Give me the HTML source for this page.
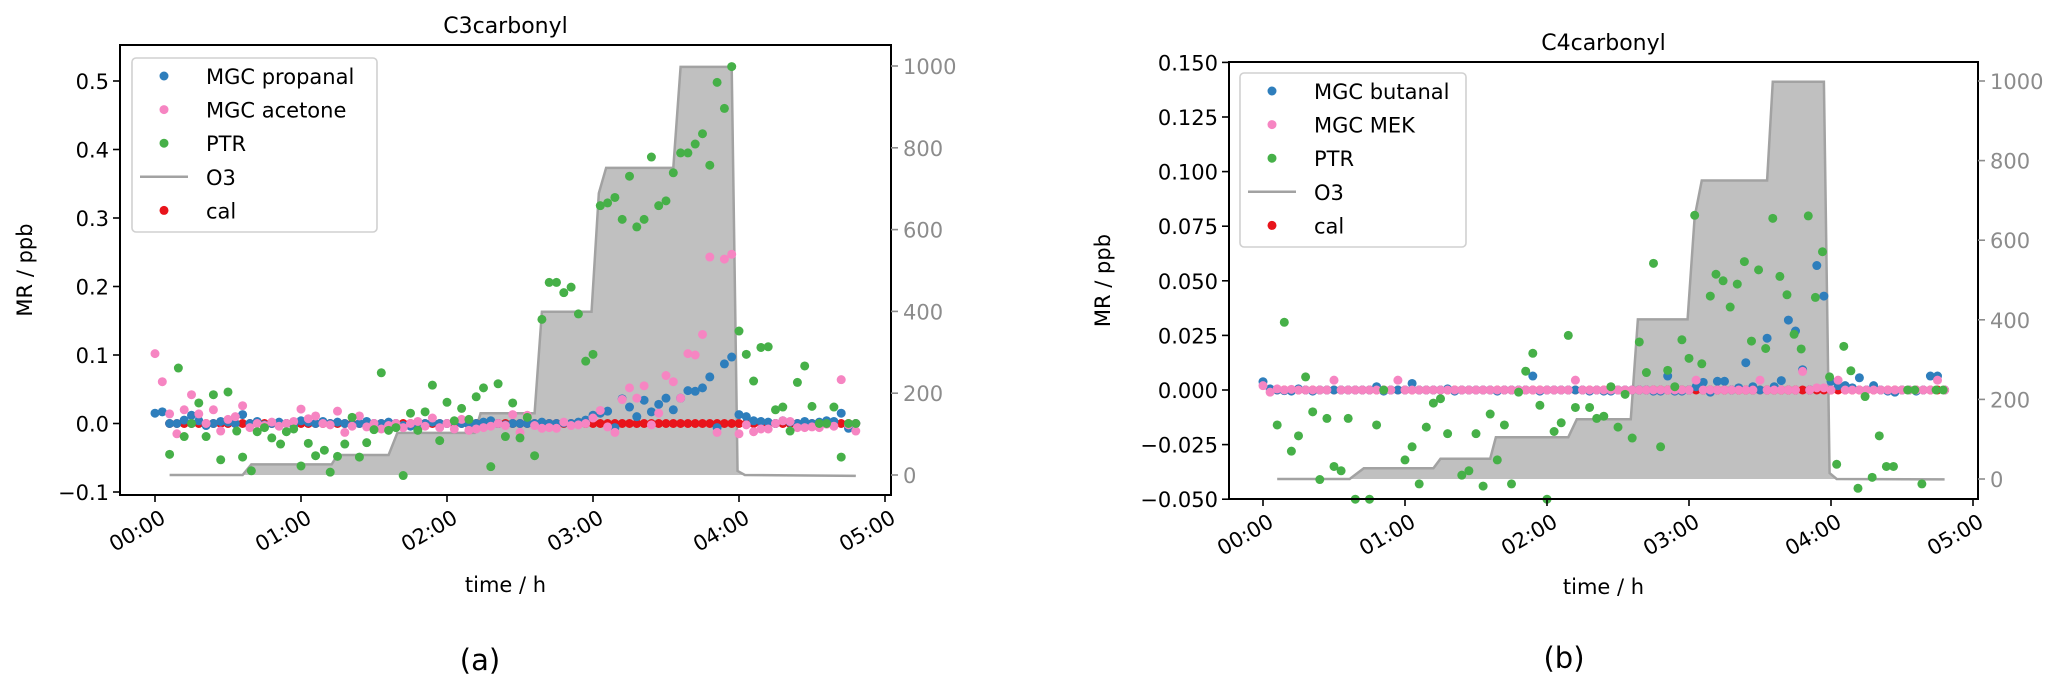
<!DOCTYPE html>
<html><head><meta charset="utf-8"><style>
html,body{margin:0;padding:0;background:#fff;}
svg{display:block;font-family:"DejaVu Sans","Liberation Sans",sans-serif;}
</style></head><body>
<svg id="fig" width="2067" height="688" viewBox="0 0 2067 688" xmlns="http://www.w3.org/2000/svg"></svg>
<script>
// ---------- shared data ----------
const mgcTimes = [0,0.05,0.1,0.15,0.2,0.25,0.3,0.35,0.4,0.45,0.5,0.55,0.6,0.65,0.7,0.75,0.8,0.85,0.9,0.95,1,1.05,1.1,1.15,1.2,1.25,1.3,1.35,1.4,1.45,1.5,1.55,1.6,1.65,1.7,1.75,1.8,1.85,1.9,1.95,2,2.05,2.1,2.15,2.2,2.25,2.3,2.35,2.4,2.45,2.5,2.55,2.6,2.65,2.7,2.75,2.8,2.85,2.9,2.95,3,3.05,3.1,3.15,3.2,3.25,3.3,3.35,3.4,3.45,3.5,3.55,3.6,3.65,3.7,3.75,3.8,3.85,3.9,3.95,4,4.05,4.1,4.15,4.2,4.25,4.3,4.35,4.4,4.45,4.5,4.55,4.6,4.65,4.7,4.75,4.8];
const calTimes = [0.1,0.15,0.2,0.25,0.3,0.35,0.4,0.45,0.5,0.55,0.6,0.65,0.7,0.75,0.8,0.85,0.9,0.95,1,1.05,1.1,1.15,1.2,1.25,1.3,1.35,1.4,1.45,1.5,1.55,1.6,1.65,1.7,1.75,1.8,1.85,1.9,1.95,2,2.05,2.1,2.15,2.2,2.25,2.3,2.35,2.4,2.45,2.5,2.55,2.6,2.65,2.7,2.75,2.8,2.85,2.9,2.95,3,3.05,3.1,3.15,3.2,3.25,3.3,3.35,3.4,3.45,3.5,3.55,3.6,3.65,3.7,3.75,3.8,3.85,3.9,3.95,4,4.05,4.1,4.15,4.2,4.25,4.3,4.35,4.4,4.45,4.5,4.55,4.6,4.65,4.7,4.75,4.8];
const calValues = [0,0,0,0,0,0,0,0,0,0,0,0,0,0,0,0,0,0,0,0,0,0,0,0,0,0,0,0,0,0,0,0,0,0,0,0,0,0,0,0,0,0,0,0,0,0,0,0,0,0,0,0,0,0,0,0,0,0,0,0,0,0,0,0,0,0,0,0,0,0,0,0,0,0,0,0,0,0,0,0,0,0,0,0,0,0,0,0,0,0,0,0,0,0,0];
const timeTicks = [0,1,2,3,4,5];
const timeTickLabels = ["00:00","01:00","02:00","03:00","04:00","05:00"];
const o3Ticks = [0,200,400,600,800,1000];

// ---------- panel (a) C3carbonyl ----------
const aBlue = [0.015,0.017,0,0,0.005,0.012,0.004,-0.003,0,0.003,0.002,0,0.013,0,0.003,-0.002,0,0.002,0,-0.002,0.004,0.002,0,0.003,0,0.002,0,-0.002,0,0.003,0,0,0.002,0,-0.003,-0.004,-0.003,0,0.002,0,0,0.003,0,-0.002,0,0.002,0.004,0,-0.002,0,0,0,0,0.002,0,0,0.001,0,0.002,0.005,0.012,0.015,0.018,-0.006,0.036,0.024,0.010,0.034,0.017,0.028,0.037,0.020,0.037,0.048,0.047,0.052,0.068,-0.006,0.087,0.097,0.013,0.010,0.004,0.003,0.002,0,0.004,0.002,0,0.003,0,0.002,0.004,0.003,0.015,-0.007,0];
const aPink = [0.102,0.061,0.014,-0.015,0.020,0.042,0.014,0,0.020,-0.011,0.006,0.010,0.026,-0.006,0,-0.003,0.002,-0.004,0,0.003,0.021,0.007,0.011,0,-0.002,0.018,-0.013,-0.004,0.011,-0.005,0,-0.008,-0.003,0,-0.006,0,0.003,-0.004,0.008,-0.006,0,-0.008,0.006,-0.010,-0.008,-0.006,-0.004,0,-0.003,0.013,-0.013,0.012,-0.003,-0.007,-0.006,-0.007,0.002,-0.003,-0.002,0,0.008,0.019,-0.005,-0.013,0.035,0.052,0.037,0.055,-0.002,0.015,0.070,0.061,0.037,0.102,0.100,0.130,0.243,-0.013,0.240,0.247,-0.015,-0.002,-0.012,-0.008,-0.008,0,0.004,0.003,-0.006,-0.006,-0.005,-0.006,-0.001,-0.004,0.064,-0.002,-0.011];
const aPtrTimes = [0.1,0.16,0.2,0.25,0.3,0.35,0.4,0.45,0.5,0.56,0.6,0.66,0.7,0.75,0.8,0.86,0.9,0.95,1.0,1.05,1.1,1.16,1.2,1.25,1.3,1.35,1.4,1.45,1.5,1.55,1.6,1.65,1.7,1.75,1.8,1.85,1.9,1.95,2.0,2.05,2.1,2.15,2.2,2.25,2.3,2.35,2.4,2.45,2.5,2.55,2.6,2.65,2.7,2.75,2.8,2.85,2.9,2.95,3.0,3.05,3.1,3.15,3.2,3.25,3.3,3.35,3.4,3.45,3.5,3.55,3.6,3.65,3.7,3.75,3.8,3.85,3.9,3.95,4.0,4.05,4.1,4.15,4.2,4.25,4.3,4.35,4.4,4.45,4.5,4.55,4.6,4.65,4.7,4.75,4.8];
const aPtrValues = [-0.045,0.081,-0.019,0.0,0.030,-0.019,0.042,-0.053,0.046,-0.011,-0.049,-0.069,-0.012,-0.006,-0.021,-0.030,-0.012,-0.008,-0.062,-0.029,-0.047,-0.039,-0.071,-0.048,-0.030,0.009,-0.049,-0.028,-0.009,0.074,-0.010,-0.006,-0.076,0.015,-0.010,0.017,0.056,-0.025,0.031,0.004,0.022,0.006,0.039,0.052,-0.063,0.058,-0.019,0.030,-0.021,0.009,-0.047,0.152,0.206,0.206,0.191,0.199,0.160,0.091,0.101,0.318,0.322,0.330,0.298,0.361,0.287,0.298,0.389,0.318,0.325,0.366,0.395,0.395,0.408,0.423,0.377,0.498,0.460,0.521,0.135,0.101,0.062,0.111,0.112,0.020,0.024,-0.011,0.060,0.084,0.025,0.0,0.0,0.024,-0.049,0.0,0.0];
const aO3Times = [0.1,0.6,0.66,1.21,1.25,1.6,1.66,2.19,2.23,2.6,2.65,2.99,3.04,3.09,3.55,3.6,3.95,3.99,4.04,4.8];
const aO3Values = [0,0,26,26,49,49,103,103,151,151,399,399,689,751,751,998,998,10,0,-2];
const aYTicks = [-0.1,0.0,0.1,0.2,0.3,0.4,0.5];
const aYTickLabels = ["\u22120.1","0.0","0.1","0.2","0.3","0.4","0.5"];

// ---------- panel (b) C4carbonyl ----------
const bBlue = [0.0038,0.0005,0,-0.0003,-0.0005,0.0005,0,-0.0005,0,0,0,0,0,0,0,0,0.0015,-0.0005,0,0,0,0.003,0,0,0,0,0.0005,-0.0005,0,0,0,0,0,-0.0005,0,0,0,0,0.0064,-0.0005,0,0,0,0,0,0,-0.0005,0,-0.0005,-0.0005,0,0,0,0,0,-0.0005,-0.0005,0.0064,-0.0005,-0.0005,0,0.0015,0.0035,-0.001,0.004,0.004,0,0.001,0.0125,0.0015,0,0.0237,0.0015,0.0043,0.032,0.027,0.0093,0,0.057,0.043,0.004,0.002,0.002,0.001,0.0056,0,0.002,0,-0.0005,-0.001,0,0,-0.0005,0,0.0064,0.0064,0];
const bPink = [0.002,-0.001,0.0005,0,0.0003,0,0,0,0,0,0.0045,0,0,0,0,0,0,0,0,0.0045,0,0,0,0,0,0,0,0,0,0,0,0,0,0,0,0,0,0,0,0,0,0,0,0,0.0045,0,0,0,0,0,0,0,0,0,0,0,0,0,0,0,0,0.0045,0,0,0,0,0,0,0,0,0.0045,0,0,0,0,0,0.0085,0,0.001,0.001,0,0.0045,0,0,0,0,0,0,0,0,0,0,0,0,0,0.0045,0];
const bPtrTimes = [0.1,0.15,0.2,0.25,0.3,0.35,0.4,0.45,0.5,0.55,0.6,0.65,0.75,0.8,0.85,1.0,1.05,1.1,1.15,1.2,1.25,1.3,1.4,1.45,1.5,1.55,1.6,1.65,1.7,1.75,1.8,1.85,1.9,1.95,2.0,2.05,2.1,2.15,2.2,2.3,2.35,2.4,2.45,2.5,2.55,2.6,2.65,2.7,2.75,2.8,2.85,2.9,2.95,3.0,3.04,3.09,3.15,3.19,3.24,3.29,3.34,3.39,3.44,3.49,3.54,3.59,3.64,3.69,3.74,3.79,3.84,3.89,3.94,3.99,4.04,4.09,4.14,4.19,4.24,4.29,4.34,4.39,4.44,4.54,4.59,4.64,4.74,4.79];
const bPtrValues = [-0.016,0.031,-0.028,-0.021,0.006,-0.010,-0.041,-0.013,-0.035,-0.037,-0.013,-0.050,-0.050,-0.016,0.0,-0.032,-0.026,-0.043,-0.017,-0.006,-0.004,-0.020,-0.039,-0.037,-0.020,-0.044,-0.011,-0.032,-0.016,-0.043,-0.001,0.0086,0.0168,-0.007,-0.050,-0.019,-0.015,0.025,-0.008,-0.008,-0.013,-0.012,0.0015,-0.017,-0.002,-0.022,0.022,0.008,0.058,-0.026,0.009,0.0015,0.023,0.0145,0.080,0.012,0.043,0.053,0.050,0.038,0.0485,0.0588,0.0224,0.055,0.019,0.0786,0.052,0.0436,0.0255,0.0188,0.0797,0.0424,0.0633,0.006,-0.034,0.020,0.0088,-0.045,-0.003,-0.040,-0.021,-0.035,-0.035,0,0,-0.043,0,0];
const bO3Times = [0.1,0.61,0.71,1.2,1.25,1.6,1.64,2.15,2.21,2.59,2.64,2.99,3.04,3.09,3.55,3.59,3.95,3.99,4.04,4.8];
const bO3Values = [0,0,27,27,51,51,105,105,150,150,401,401,659,750,750,998,998,15,0,-1];
const bYTicks = [-0.05,-0.025,0,0.025,0.05,0.075,0.1,0.125,0.15];
const bYTickLabels = ["\u22120.050","\u22120.025","0.000","0.025","0.050","0.075","0.100","0.125","0.150"];

// ---------- drawing ----------
const NS = "http://www.w3.org/2000/svg";
const svg = document.getElementById("fig");
const C = {blue:"#2e7ebc", pink:"#f685c2", green:"#46b048", red:"#e8141b", fill:"#c0c0c0", line:"#a2a2a2", grid:"#8c8c8c"};
const FS = 21;
function mk(tag, parent){ const e=document.createElementNS(NS,tag); parent.appendChild(e); return e; }

function panel(cfg){
  const g = mk("g", svg);
  
  
  const X = t => cfg.x0 + cfg.xs*t;
  const Y = v => cfg.y0 - cfg.ys*v;
  const YO = o => cfg.o0 - cfg.os*o;

  let d = "M"+X(cfg.o3t[0])+","+YO(0);
  let ln = "";
  cfg.o3t.forEach((t,i)=>{ d += " L"+X(t)+","+YO(cfg.o3v[i]); ln += (i?" L":"M")+X(t)+","+YO(cfg.o3v[i]); });
  d += " L"+X(cfg.o3t[cfg.o3t.length-1])+","+YO(0)+" Z";
  const fill = mk("path", g);
  
  
  fill.setAttribute("d", d); fill.setAttribute("fill", C.fill);
  const line = mk("path", g);
  
  
  line.setAttribute("d", ln); line.setAttribute("fill","none"); line.setAttribute("stroke", C.line); line.setAttribute("stroke-width","2.5");

  function dots(times, vals, color, nm){
    const sg = mk("g", g);
    
    
    times.forEach((t,i)=>{
      const c = mk("circle", sg);
      
      
      c.setAttribute("cx", X(t)); c.setAttribute("cy", Y(vals[i])); c.setAttribute("r", 4.5); c.setAttribute("fill", color);
    });
  }
  dots(calTimes, calValues, C.red, "cal-series");
  dots(mgcTimes, cfg.blue, C.blue, "mgc-"+cfg.blueName+"-series");
  dots(mgcTimes, cfg.pink, C.pink, "mgc-"+cfg.pinkName+"-series");
  dots(cfg.ptrT, cfg.ptrV, C.green, "ptr-series");

  const fr = mk("rect", g);
  
  
  fr.setAttribute("x", cfg.L); fr.setAttribute("y", cfg.T); fr.setAttribute("width", cfg.R-cfg.L); fr.setAttribute("height", cfg.B-cfg.T);
  fr.setAttribute("fill","none"); fr.setAttribute("stroke","#000"); fr.setAttribute("stroke-width","2");

  cfg.yt.forEach((v,i)=>{
    const tk = mk("line", g);
    
    
    tk.setAttribute("x1", cfg.L-7); tk.setAttribute("x2", cfg.L); tk.setAttribute("y1", Y(v)); tk.setAttribute("y2", Y(v)); tk.setAttribute("stroke","#000"); tk.setAttribute("stroke-width","1.6");
    const tx = mk("text", g);
    
    
    tx.setAttribute("x", cfg.L-11); tx.setAttribute("y", Y(v)+8); tx.setAttribute("text-anchor","end"); tx.setAttribute("font-size",FS);
    tx.textContent = cfg.ytl[i];
  });
  o3Ticks.forEach(o=>{
    const tk = mk("line", g);
    
    
    tk.setAttribute("x1", cfg.R); tk.setAttribute("x2", cfg.R+7); tk.setAttribute("y1", YO(o)); tk.setAttribute("y2", YO(o)); tk.setAttribute("stroke",C.grid); tk.setAttribute("stroke-width","1.6");
    const tx = mk("text", g);
    
    
    tx.setAttribute("x", cfg.R+12); tx.setAttribute("y", YO(o)+8); tx.setAttribute("font-size",FS); tx.setAttribute("fill", C.grid);
    tx.textContent = String(o);
  });
  timeTicks.forEach((t,i)=>{
    const tk = mk("line", g);
    
    
    tk.setAttribute("x1", X(t)); tk.setAttribute("x2", X(t)); tk.setAttribute("y1", cfg.B); tk.setAttribute("y2", cfg.B+7); tk.setAttribute("stroke","#000"); tk.setAttribute("stroke-width","1.6");
    const tx = mk("text", g);
    
    
    const ax = X(t)+4, ay = cfg.B+13;
    tx.setAttribute("x", ax); tx.setAttribute("y", ay); tx.setAttribute("dy","16"); tx.setAttribute("text-anchor","end"); tx.setAttribute("font-size",FS);
    tx.setAttribute("transform","rotate(-30 "+ax+" "+ay+")");
    tx.textContent = timeTickLabels[i];
  });
  function label(txt, x, y, size, nm, rot){
    const t = mk("text", g);
    
    
    t.setAttribute("x", x); t.setAttribute("y", y); t.setAttribute("text-anchor","middle"); t.setAttribute("font-size", size);
    if(rot) t.setAttribute("transform","rotate(-90 "+x+" "+y+")");
    t.textContent = txt;
  }
  label(cfg.title, (cfg.L+cfg.R)/2, cfg.T-12, 22, "chart-title");
  label("time / h", (cfg.L+cfg.R)/2, cfg.xlabY, FS, "x-axis-title");
  label("MR / ppb", cfg.ylabX, (cfg.T+cfg.B)/2, FS, "y-axis-title", true);
  label(cfg.panelLabel, cfg.plX, cfg.plY, 29, "panel-label");

  const lg = mk("g", g);
  
  
  const box = mk("rect", lg);
  
  
  box.setAttribute("x", cfg.lgX); box.setAttribute("y", cfg.lgY); box.setAttribute("width", cfg.lgW); box.setAttribute("height", 174); box.setAttribute("rx", 4);
  box.setAttribute("fill","rgba(255,255,255,0.85)"); box.setAttribute("stroke","#d0d0d0"); box.setAttribute("stroke-width","1.6");
  const entries = [[cfg.leg[0],C.blue,"dot"],[cfg.leg[1],C.pink,"dot"],["PTR",C.green,"dot"],["O3",C.line,"line"],["cal",C.red,"dot"]];
  entries.forEach((e,i)=>{
    const ey = cfg.lgY + 18 + i*33.6;
    const mx = cfg.lgX + 32;
    if(e[2]==="dot"){
      const c = mk("circle", lg);
      
      
      c.setAttribute("cx", mx); c.setAttribute("cy", ey); c.setAttribute("r", 4.5); c.setAttribute("fill", e[1]);
    } else {
      const l = mk("line", lg);
      
      
      l.setAttribute("x1", mx-24); l.setAttribute("x2", mx+24); l.setAttribute("y1", ey); l.setAttribute("y2", ey); l.setAttribute("stroke", e[1]); l.setAttribute("stroke-width","2.5");
    }
    const t = mk("text", lg);
    
    
    t.setAttribute("x", cfg.lgX + 74); t.setAttribute("y", ey+8); t.setAttribute("font-size",FS);
    t.textContent = e[0];
  });
}

panel({name:"panel-a-c3carbonyl", title:"C3carbonyl", L:120, R:891, T:45, B:495,
  x0:155, xs:146, y0:423.5, ys:685, o0:475, os:0.409,
  o3t:aO3Times, o3v:aO3Values, blue:aBlue, pink:aPink, ptrT:aPtrTimes, ptrV:aPtrValues,
  blueName:"propanal", pinkName:"acetone", yt:aYTicks, ytl:aYTickLabels,
  xlabY:592, ylabX:32, panelLabel:"(a)", plX:480, plY:670,
  lgX:132, lgY:58, lgW:245, leg:["MGC propanal","MGC acetone"]});

panel({name:"panel-b-c4carbonyl", title:"C4carbonyl", L:1229, R:1978, T:62, B:499,
  x0:1263, xs:142, y0:390, ys:2184, o0:479, os:0.398,
  o3t:bO3Times, o3v:bO3Values, blue:bBlue, pink:bPink, ptrT:bPtrTimes, ptrV:bPtrValues,
  blueName:"butanal", pinkName:"mek", yt:bYTicks, ytl:bYTickLabels,
  xlabY:594, ylabX:1110, panelLabel:"(b)", plX:1564, plY:668,
  lgX:1240, lgY:73, lgW:226, leg:["MGC butanal","MGC MEK"]});
</script>
</body></html>
